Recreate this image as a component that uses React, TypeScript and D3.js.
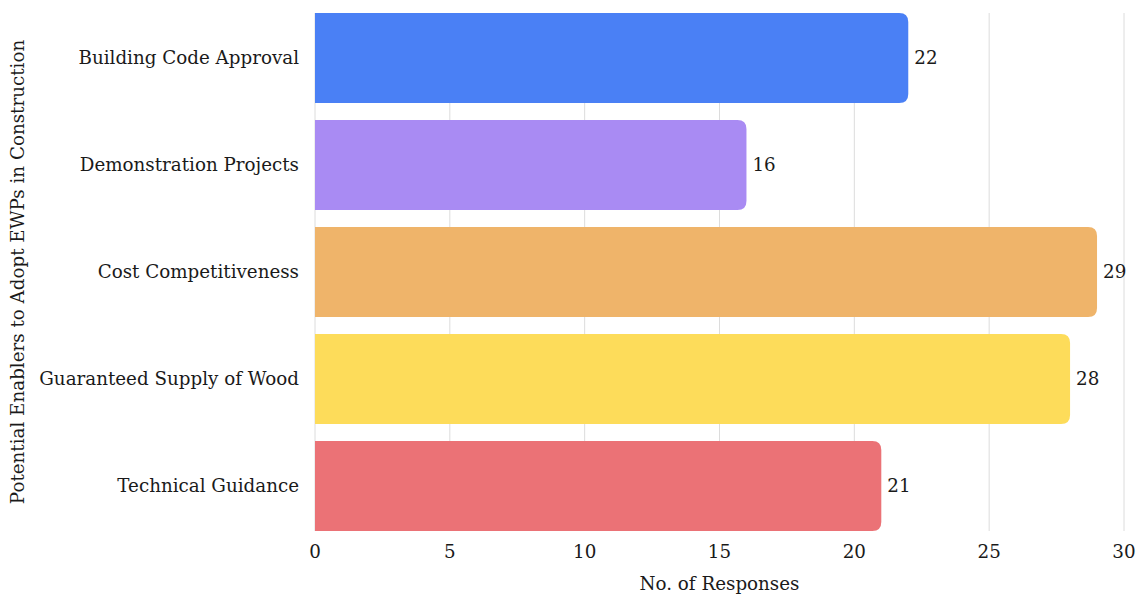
import React from "react";
import * as d3 from "d3";

const categories = [
  "Building Code Approval",
  "Demonstration Projects",
  "Cost Competitiveness",
  "Guaranteed Supply of Wood",
  "Technical Guidance",
];
const values = [22, 16, 29, 28, 21];
const colors = ["#4a80f5", "#a98bf3", "#efb46a", "#fddc5a", "#eb7276"];
const xTicks = [0, 5, 10, 15, 20, 25, 30];
const xTitle = "No. of Responses";
const yTitle = "Potential Enablers to Adopt EWPs in Construction";

const W = 1138;
const H = 597;
const FONT = "'DejaVu Serif', serif";
const FS = 18.3;

function barPath(x0: number, y0: number, w: number, h: number, r: number) {
  const rr = Math.min(r, w, h / 2);
  return `M${x0},${y0}H${x0 + w - rr}Q${x0 + w},${y0} ${x0 + w},${y0 + rr}V${y0 + h - rr}Q${x0 + w},${y0 + h} ${x0 + w - rr},${y0 + h}H${x0}Z`;
}

export default function App() {
  const x = d3.scaleLinear().domain([0, 30]).range([315, 1124]);
  const y = d3
    .scaleBand<string>()
    .domain(categories)
    .range([13, 531])
    .paddingInner(0.159)
    .paddingOuter(0);
  return (
    <svg width={W} height={H} style={{ position: "absolute", left: 0, top: 0 }}>
      <rect width={W} height={H} fill="#fff" />
      {xTicks.map((t) => (
        <line key={"g" + t} x1={x(t)} x2={x(t)} y1={13} y2={531} stroke="#dcdcdc" strokeWidth={1} />
      ))}
      {categories.map((c, i) => (
        <path
          key={c}
          d={barPath(x(0), y(c)!, x(values[i]) - x(0), y.bandwidth(), 9)}
          fill={colors[i]}
        />
      ))}
      {categories.map((c, i) => (
        <text
          key={"v" + c}
          x={x(values[i]) + 6}
          y={y(c)! + y.bandwidth() / 2}
          dy="0.35em"
          fontFamily={FONT}
          fontSize={FS}
          fill="#1a1a1a"
        >
          {values[i]}
        </text>
      ))}
      {categories.map((c) => (
        <text
          key={"l" + c}
          x={299}
          y={y(c)! + y.bandwidth() / 2}
          dy="0.35em"
          textAnchor="end"
          fontFamily={FONT}
          fontSize={FS}
          fill="#1a1a1a"
        >
          {c}
        </text>
      ))}
      {xTicks.map((t) => (
        <text
          key={"t" + t}
          x={x(t)}
          y={552}
          dy="0.35em"
          textAnchor="middle"
          fontFamily={FONT}
          fontSize={FS}
          fill="#1a1a1a"
        >
          {t}
        </text>
      ))}
      <text
        x={(x(0) + x(30)) / 2}
        y={584}
        dy="0.35em"
        textAnchor="middle"
        fontFamily={FONT}
        fontSize={FS}
        fill="#1a1a1a"
      >
        {xTitle}
      </text>
      <text
        transform={`translate(18,272) rotate(-90)`}
        dy="0.35em"
        textAnchor="middle"
        fontFamily={FONT}
        fontSize={FS}
        fill="#1a1a1a"
      >
        {yTitle}
      </text>
    </svg>
  );
}
